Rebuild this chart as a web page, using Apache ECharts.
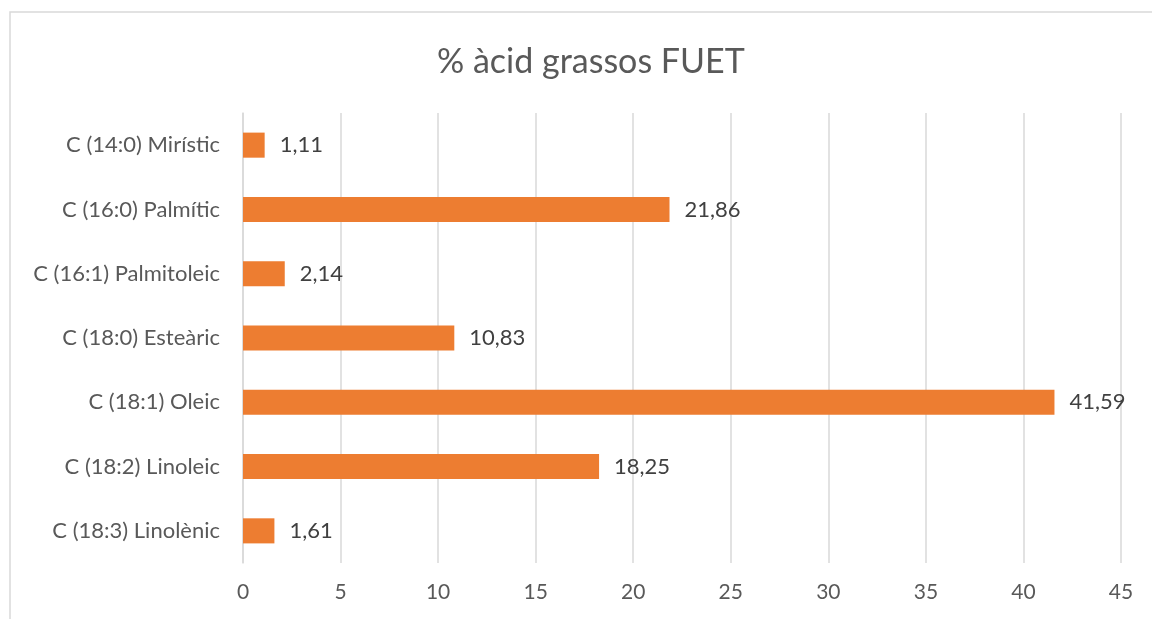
<!DOCTYPE html>
<html>
<head>
<meta charset="utf-8">
<script src="https://cdn.jsdelivr.net/npm/echarts@6/dist/echarts.min.js"></script>
<style>
  html, body { margin: 0; padding: 0; background: #fff; }
  #chart { width: 1152px; height: 619px; }
</style>
</head>
<body>
<div id="chart"></div>
<script>
// Fatty acid composition of fuet (%), listed top to bottom
const categories = [
  'C (14:0) Mirístic',
  'C (16:0) Palmític',
  'C (16:1) Palmitoleic',
  'C (18:0) Esteàric',
  'C (18:1) Oleic',
  'C (18:2) Linoleic',
  'C (18:3) Linolènic'
];
const values = [1.11, 21.86, 2.14, 10.83, 41.59, 18.25, 1.61];
const xTicks = [0, 5, 10, 15, 20, 25, 30, 35, 40, 45];

const FONT = 'Lato, "Open Sans", sans-serif';
const chart = echarts.init(document.getElementById('chart'), null, { renderer: 'canvas' });

chart.setOption({
  backgroundColor: '#ffffff',
  animation: false,
  title: {
    text: '% àcid grassos FUET',
    left: 432,
    top: 40,
    textStyle: { fontFamily: FONT, fontSize: 34, fontWeight: 'normal', color: '#595959' }
  },
  graphic: [{
    type: 'rect',
    shape: { x: 10, y: 12, width: 1200, height: 700 },
    style: { fill: 'none', stroke: '#d9d9d9', lineWidth: 1.5 },
    silent: true
  }],
  grid: { left: 243, right: 31, top: 113, bottom: 56, containLabel: false },
  xAxis: {
    type: 'value',
    min: xTicks[0],
    max: xTicks[xTicks.length - 1],
    interval: 5,
    axisLine: { show: false },
    axisTick: { show: false },
    splitLine: { show: true, lineStyle: { color: '#d9d9d9', width: 1.5 } },
    axisLabel: { fontFamily: FONT, fontSize: 21, color: '#595959', margin: 19 }
  },
  yAxis: {
    type: 'category',
    data: categories,
    inverse: true,
    axisLine: { show: true, lineStyle: { color: '#d9d9d9', width: 1.5 } },
    axisTick: { show: false },
    axisLabel: { fontFamily: FONT, fontSize: 22, color: '#595959', margin: 23 }
  },
  series: [{
    type: 'bar',
    data: values,
    barWidth: '39%',
    itemStyle: { color: '#ED7D31' },
    label: {
      show: true,
      position: 'right',
      distance: 15,
      fontFamily: FONT,
      fontSize: 22,
      color: '#404040',
      formatter: p => p.value.toFixed(2).replace('.', ',')
    }
  }]
});
</script>
</body>
</html>
